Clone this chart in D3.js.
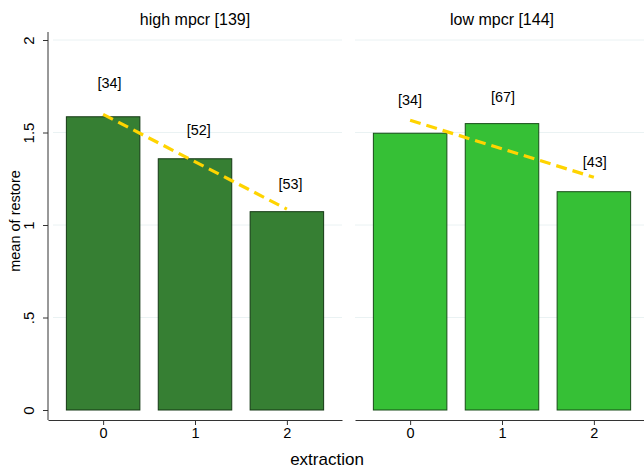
<!DOCTYPE html>
<html>
<head>
<meta charset="utf-8">
<script src="https://cdn.jsdelivr.net/npm/d3@7"></script>
<style>
  body { margin: 0; background: #fff; }
  text { font-family: "Liberation Sans", Arial, sans-serif; fill: #000; }
</style>
</head>
<body>
<svg id="chart"></svg>
<script>
// data
const panels = ["high mpcr [139]", "low mpcr [144]"];
const extraction = [0, 1, 2];
const highMeans = [1.585, 1.358, 1.072];
const lowMeans = [1.496, 1.548, 1.18];
const highCounts = ["[34]", "[52]", "[53]"];
const lowCounts = ["[34]", "[67]", "[43]"];
// label heights (in restore units)
const highLabelY = [1.768, 1.514, 1.222];
const lowLabelY = [1.676, 1.692, 1.341];
const highLabelDx = [0.07, 0.04, 0.04];
const lowLabelDx = [0, 0.01, 0.01];
// fitted line ends at extraction 0 and 2
const highFit = [1.598, 1.086];
const lowFit = [1.566, 1.258];
const yTicks = [0, 0.5, 1, 1.5, 2];
const yTickLabels = ["0", ".5", "1", "1.5", "2"];

const svgWidth = 644, svgHeight = 470;
const chart = d3.select("#chart").attr("width", svgWidth).attr("height", svgHeight);

const panelLeft = [48, 355], panelWidth = 294;
const yScale = d3.scaleLinear().domain([0, 2]).range([410, 40]);

const series = [
  {title: panels[0], means: highMeans, counts: highCounts, labelY: highLabelY, labelDx: highLabelDx, fit: highFit, fill: "#367f33", stroke: "#143814"},
  {title: panels[1], means: lowMeans, counts: lowCounts, labelY: lowLabelY, labelDx: lowLabelDx, fit: lowFit, fill: "#36c036", stroke: "#174d17"}
];

series.forEach(function(s, i) {
  const x0 = panelLeft[i];
  const xScale = d3.scaleLinear().domain([-0.6, 2.6]).range([x0, x0 + panelWidth]);
  const g = chart.append("g");

  // grid
  g.selectAll(".grid").data(yTicks.slice(1)).enter().append("line")
    .attr("x1", x0 + (i == 0 ? 5 : 0)).attr("x2", x0 + panelWidth)
    .attr("y1", d => yScale(d)).attr("y2", d => yScale(d))
    .attr("stroke", "#eaf2f3").attr("stroke-width", 1);

  // bars
  g.selectAll(".bar").data(s.means).enter().append("rect")
    .attr("x", (d, j) => xScale(extraction[j] - 0.4))
    .attr("width", xScale(0.4) - xScale(-0.4))
    .attr("y", d => yScale(d))
    .attr("height", d => yScale(0) - yScale(d))
    .attr("fill", s.fill).attr("stroke", s.stroke).attr("stroke-width", 1);

  // fitted line
  g.append("line")
    .attr("x1", xScale(0)).attr("y1", yScale(s.fit[0]))
    .attr("x2", xScale(2)).attr("y2", yScale(s.fit[1]))
    .attr("stroke", "#ffd400").attr("stroke-width", 3.2)
    .attr("stroke-dasharray", "11,6");

  // count labels
  g.selectAll(".lbl").data(s.counts).enter().append("text")
    .attr("x", (d, j) => xScale(extraction[j] + s.labelDx[j]))
    .attr("y", (d, j) => yScale(s.labelY[j]))
    .attr("dy", "0.35em")
    .attr("text-anchor", "middle")
    .style("font-size", "14.4px")
    .text(d => d);

  // x axis
  const xAxis = d3.axisBottom(xScale).tickValues(extraction).tickFormat(d3.format("d"))
    .tickSizeOuter(0).tickSizeInner(5).tickPadding(3);
  const ax = g.append("g").attr("transform", "translate(0,420)").call(xAxis);
  ax.select(".domain").attr("stroke", "#333");
  ax.selectAll(".tick line").attr("stroke", "#333");
  ax.selectAll("text").style("font-size", "14.5px").style("font-family", "Liberation Sans, Arial, sans-serif");

  // title
  g.append("text")
    .attr("x", xScale(1)).attr("y", 19)
    .attr("dy", "0.35em")
    .attr("text-anchor", "middle")
    .style("font-size", "16px")
    .text(s.title);
});

// y axis (left panel only)
const yAxis = d3.axisLeft(yScale).tickValues(yTicks)
  .tickFormat((d, i) => yTickLabels[i]).tickSizeOuter(0).tickSizeInner(5).tickPadding(3);
const yg = chart.append("g").attr("transform", "translate(48,0)").call(yAxis);
yg.select(".domain").attr("d", "M0,32V420").attr("stroke", "#333");
yg.selectAll(".tick line").attr("stroke", "#333");
yg.selectAll(".tick text")
  .attr("x", null).attr("dy", null)
  .attr("transform", "translate(-14,0) rotate(-90)")
  .attr("text-anchor", "middle")
  .style("font-size", "15px").style("font-family", "Liberation Sans, Arial, sans-serif");

chart.append("text")
  .attr("transform", "translate(20,221) rotate(-90)")
  .attr("text-anchor", "middle")
  .style("font-size", "14.5px")
  .text("mean of restore");

chart.append("text")
  .attr("x", 327).attr("y", 465)
  .attr("text-anchor", "middle")
  .style("font-size", "17px")
  .text("extraction");
</script>
</body>
</html>
